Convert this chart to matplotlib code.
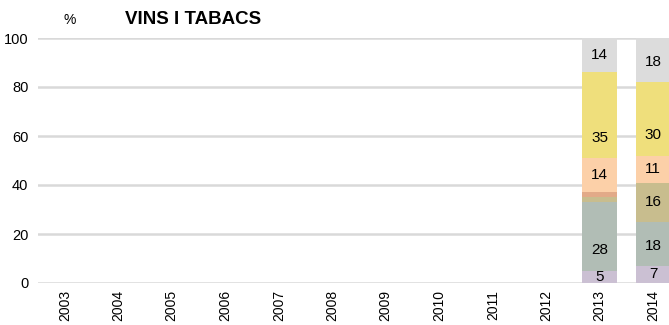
import matplotlib.pyplot as plt
import numpy as np

plt.rcParams['font.family'] = ['Liberation Sans', 'DejaVu Sans']

anys = ["2003", "2004", "2005", "2006", "2007", "2008", "2009", "2010",
        "2011", "2012", "2013", "2014"]

# percentatges per segment (de baix a dalt); NaN = sense dades
seg1 = [np.nan] * 10 + [5, 7]
seg2 = [np.nan] * 10 + [28, 18]
seg3 = [np.nan] * 10 + [2, 16]
seg4 = [np.nan] * 10 + [2, 0]
seg5 = [np.nan] * 10 + [14, 11]
seg6 = [np.nan] * 10 + [35, 30]
seg7 = [np.nan] * 10 + [14, 18]

series = [seg1, seg2, seg3, seg4, seg5, seg6, seg7]
colors = ["#cbc0d3", "#b1bdb5", "#c8bd8e", "#e2aa88", "#fcd0a8", "#efdf7c", "#dcdcdc"]

fig = plt.figure(figsize=(6.69, 3.25), dpi=100)
ax = fig.add_axes([38 / 669, 42 / 325, 642 / 669, 245 / 325])

x = np.arange(len(anys))
bottom = np.zeros(len(anys))
for vals, col in zip(series, colors):
    v = np.nan_to_num(np.array(vals, dtype=float))
    ax.bar(x, v, bottom=bottom, width=0.66, color=col, zorder=2)
    for i in range(len(anys)):
        if v[i] >= 5:
            # etiqueta al centre, però com a molt a ~8 punts de la base
            ypos = bottom[i] + min(v[i] / 2, 8.3)
            ax.text(x[i], ypos, f"{v[i]:.0f}", ha="center",
                    va="center", fontsize=11, zorder=3)
    bottom += v

ax.set_xlim(-0.5, len(anys) - 0.5)
ax.set_ylim(0, 100)
ax.set_yticks([0, 20, 40, 60, 80, 100])
ax.yaxis.grid(True, color="#d9d9d9", linewidth=1.8, zorder=0)
ax.set_axisbelow(True)
for s in ax.spines.values():
    s.set_visible(False)
ax.tick_params(axis="y", length=0, labelsize=10.5, pad=7)
ax.tick_params(axis="x", length=0, labelsize=10, pad=5)
ax.set_xticks(x)
ax.set_xticklabels(anys, rotation=90)

fig.text(70 / 669, 1 - 20 / 325, "%", fontsize=10, ha="center", va="center")
fig.text(125 / 669, 1 - 20 / 325, "VINS I TABACS", fontsize=13.5,
         fontweight="bold", ha="left", va="center")

fig.savefig("out.png", dpi=100)
